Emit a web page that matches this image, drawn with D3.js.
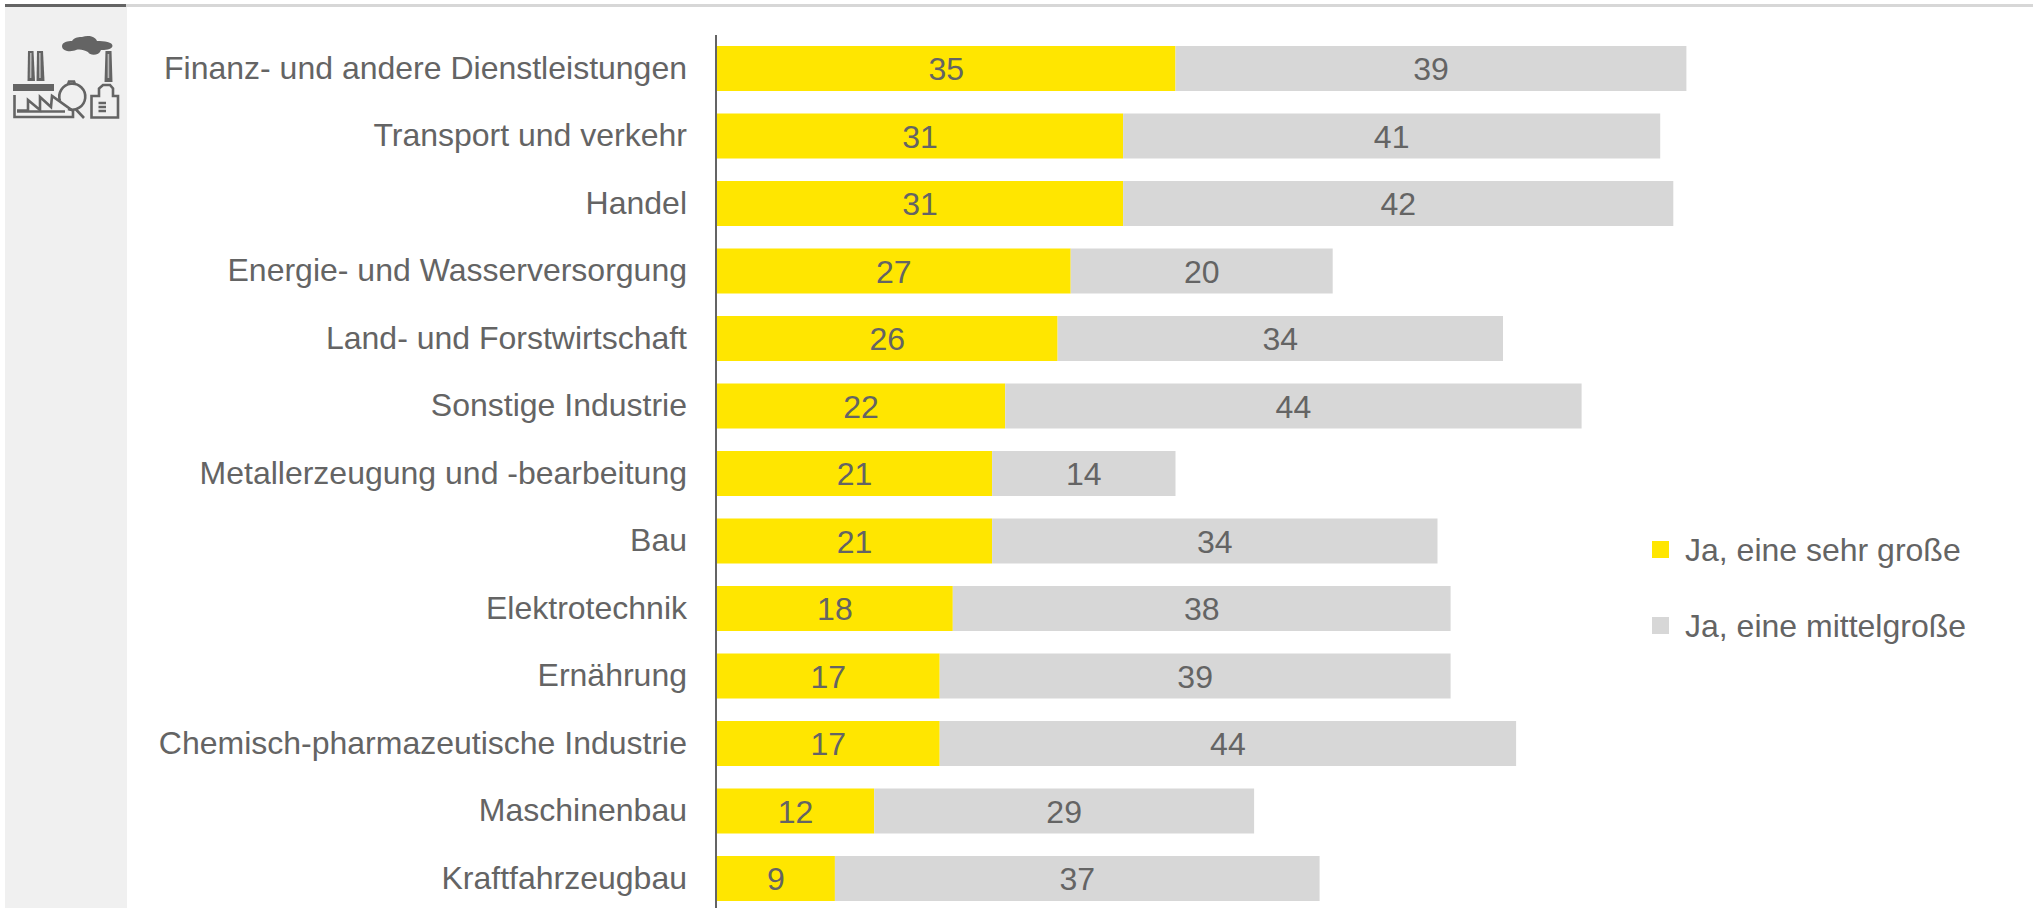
<!DOCTYPE html>
<html lang="de">
<head>
<meta charset="utf-8">
<title>Branchen</title>
<script src="https://cdn.jsdelivr.net/npm/d3@7/dist/d3.min.js"></script>
<style>
html,body{margin:0;padding:0;background:#fff;overflow:hidden}
text{font-family:"Liberation Sans",Arial,sans-serif;fill:#646464}
</style>
</head>
<body>
<svg id="chart" width="2033" height="908"></svg>
<script>
const categories = [
  "Finanz- und andere Dienstleistungen","Transport und verkehr","Handel",
  "Energie- und Wasserversorgung","Land- und Forstwirtschaft","Sonstige Industrie",
  "Metallerzeugung und -bearbeitung","Bau","Elektrotechnik","Ernährung",
  "Chemisch-pharmazeutische Industrie","Maschinenbau","Kraftfahrzeugbau"
];
const sehrGross = [35,31,31,27,26,22,21,21,18,17,17,12,9];
const mittelGross = [39,41,42,20,34,44,14,34,38,39,44,29,37];
const seriesNames = ["Ja, eine sehr große","Ja, eine mittelgroße"];
const seriesColors = ["#ffe600","#d7d7d7"];

const svg = d3.select("#chart");
const x0 = 717, unit = 13.1, fontSize = 32;
const x = d3.scaleLinear().domain([0,100]).range([x0, x0 + 100*unit]);
const y = d3.scaleBand().domain(categories).range([34.75, 912.25]).paddingInner(1/3).paddingOuter(1/6);

// Side panel and top rule
svg.append("rect").attr("x",5).attr("y",7).attr("width",122).attr("height",901).attr("fill","#f0f0f0");
svg.append("rect").attr("x",126).attr("y",4).attr("width",1907).attr("height",3).attr("fill","#d7d7d7");
svg.append("rect").attr("x",5).attr("y",4).attr("width",121).attr("height",3).attr("fill","#646464");

// Industry pictogram: solid parts
const icon = svg.append("g").attr("fill","#646464");
[
  "M62 46 C62 42 68 41 72 41 C74 37 80 37 82 37 C88 35 95 36 97 41 C104 41 113 42 112.5 46 C112 50 104 50 101 50 C99 56 90 56 88 52 C84 50 80 49 76 50 C72 52 62 52 62 46 Z",
  "M28 51 H33.5 L35 81 H27.5 Z",
  "M37 51 H43 L44.5 81 H36.5 Z",
  "M13 84 H54 V91 H13 Z",
  "M105.5 51 H111.5 L112.5 82 H104.5 Z"
].forEach(d => icon.append("path").attr("d", d));

// Lighter slits inside the chimneys
const slits = svg.append("g").attr("stroke","#b8b8b8").attr("stroke-width",1.6);
[[30.8,53,30.6,78],[39.8,53,40,78],[108.4,54,108.4,78]].forEach(([a,b,c,e]) =>
  slits.append("line").attr("x1",a).attr("y1",b).attr("x2",c).attr("y2",e));

// Pictogram: outlined parts
const iconOutline = svg.append("g").attr("fill","none").attr("stroke","#646464").attr("stroke-width",2.6);
[
  "M14.5 95 V117 H73 V111 L52 96 L51 107 L40 97 V110 L28 100 V110.5 H17",
  "M17 111.5 H65",
  "M60 101 A13 13 0 1 1 68 109 M76 109.5 L84 118",
  "M68 84.5 L69 81.5 H74 L75 84.5",
  "M91.5 96 H99 V88.5 L103 85 H110 L113 88.5 V96 H118 V117.5 H91.5 Z",
  "M98.5 103 H106 M98.5 107 H106 M98.5 111 H106"
].forEach(d => iconOutline.append("path").attr("d", d));

// Stacked bars
const stacks = d3.stack().keys([0,1]).value((i,k) => [sehrGross,mittelGross][k][i])(d3.range(categories.length));
const layers = svg.selectAll("g.layer").data(stacks).join("g").attr("class","layer").attr("fill",(d,i)=>seriesColors[i]);
layers.selectAll("rect").data(d=>d).join("rect")
  .attr("x",d=>x(d[0])).attr("width",d=>x(d[1])-x(d[0]))
  .attr("y",d=>y(categories[d.data])).attr("height",y.bandwidth());

// Value labels centred in each segment
layers.selectAll("text").data((d,k)=>d.map(s=>({s,v:[sehrGross,mittelGross][k][s.data]}))).join("text")
  .attr("x",d=>(x(d.s[0])+x(d.s[1]))/2)
  .attr("y",d=>y(categories[d.s.data])+y.bandwidth()/2)
  .attr("dy","0.36em").attr("text-anchor","middle").attr("font-size",fontSize)
  .style("fill","#646464").text(d=>d.v);

// Category axis
const axis = svg.append("g").attr("transform",`translate(${x0-1},0)`)
  .call(d3.axisLeft(y).tickSize(0).tickPadding(29));
axis.select(".domain").remove();
axis.append("line").attr("y1",35).attr("y2",908).attr("stroke","#646464").attr("stroke-width",2);
axis.selectAll(".tick text").attr("font-size",fontSize).attr("font-family",null);

// Legend
const legend = svg.append("g").selectAll("g").data(seriesNames).join("g")
  .attr("transform",(d,i)=>`translate(1652,${541+i*76})`);
legend.append("rect").attr("width",17).attr("height",17).attr("fill",(d,i)=>seriesColors[i]);
legend.append("text").attr("x",33).attr("y",8.5).attr("dy","0.36em").attr("font-size",fontSize).text(d=>d);
</script>
</body>
</html>
